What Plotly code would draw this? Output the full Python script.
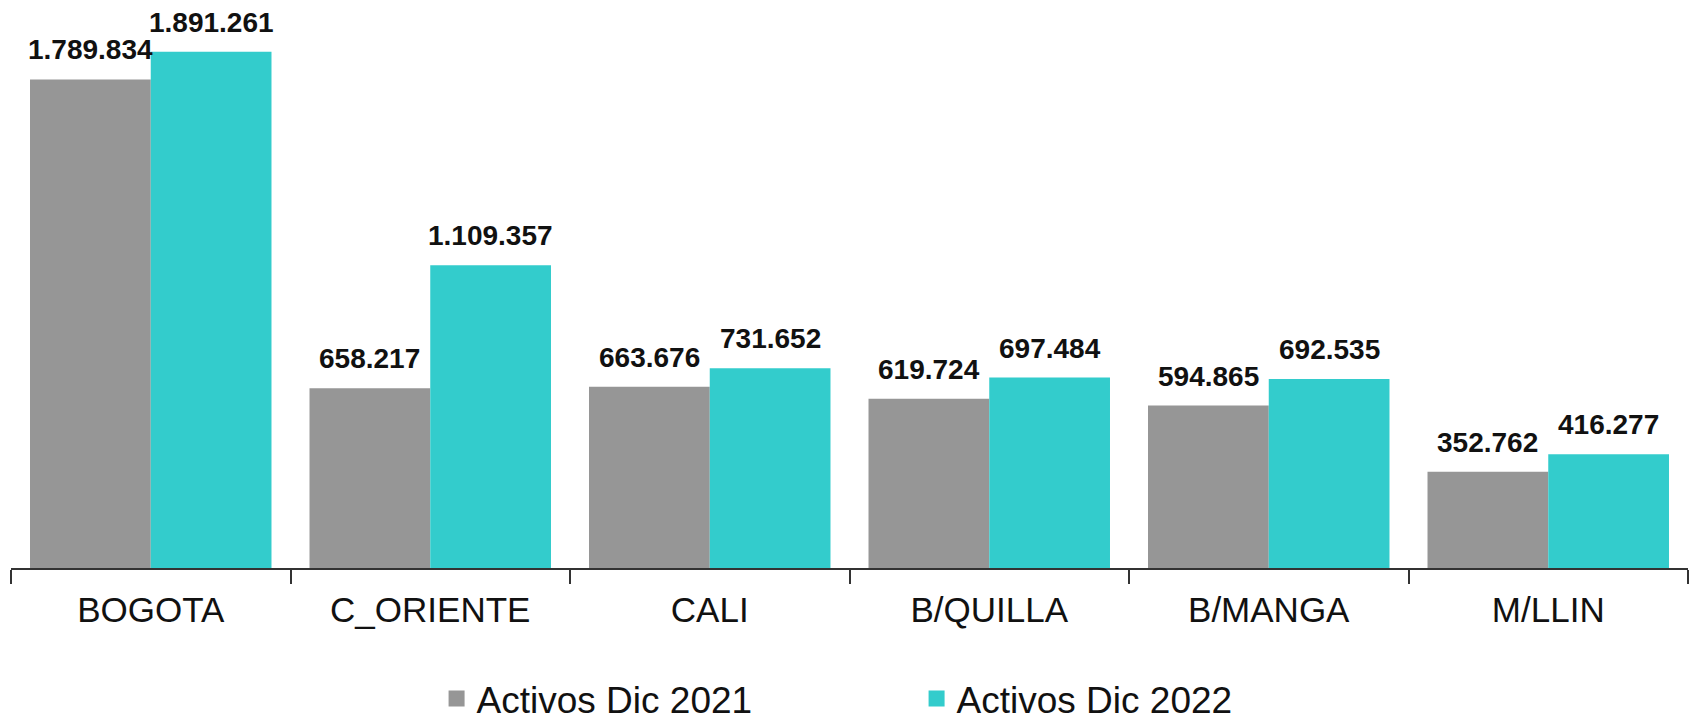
import plotly.graph_objects as go

categories = ["BOGOTA", "C_ORIENTE", "CALI", "B/QUILLA", "B/MANGA", "M/LLIN"]
activos_2021 = [1789834, 658217, 663676, 619724, 594865, 352762]
activos_2022 = [1891261, 1109357, 731652, 697484, 692535, 416277]
series_names = ["Activos Dic 2021", "Activos Dic 2022"]
colors = ["#969696", "#33CCCC"]

def fmt(v):
    return f"{v:,}".replace(",", ".")

fig = go.Figure()
for name, vals, col in zip(series_names, [activos_2021, activos_2022], colors):
    fig.add_trace(go.Bar(name=name, x=categories, y=vals, marker_color=col,
                         marker_line_width=0, showlegend=False))
# legend entries with larger square swatches
for name, col in zip(series_names, colors):
    fig.add_trace(go.Scatter(name=name, x=[None], y=[None], mode="markers",
                             marker=dict(symbol="square", size=18, color=col),
                             showlegend=True))

bargap = 0.136
half = (1 - bargap) / 4
for si, vals in enumerate([activos_2021, activos_2022]):
    off = -half if si == 0 else half
    for i, v in enumerate(vals):
        fig.add_annotation(x=i + off, y=v, text="<b>" + fmt(v) + "</b>",
                           showarrow=False, yanchor="bottom", yshift=12,
                           font=dict(family="Liberation Sans, Arial", size=28, color="#111111"))

fig.update_layout(
    width=1691, height=721,
    margin=dict(l=11, r=3, t=22, b=153, autoexpand=False),
    paper_bgcolor="white", plot_bgcolor="white",
    barmode="group", bargap=bargap, bargroupgap=0,
    font=dict(family="Liberation Sans, Arial", color="#111111"),
    showlegend=True,
    legend=dict(orientation="h", x=0.54, xanchor="center", y=-0.24, yanchor="middle",
                font=dict(size=37, color="#111111"), entrywidth=435, entrywidthmode="pixels",
                itemsizing="trace"),
    xaxis=dict(showline=True, linecolor="#333333", linewidth=2, ticks="outside",
               tickson="boundaries", ticklen=14, tickcolor="#333333", tickwidth=2,
               ticklabelstandoff=10,
               tickfont=dict(size=35, color="#111111"), showgrid=False),
    yaxis=dict(range=[0, 2000000], visible=False, showgrid=False),
)
fig.write_html("out.html", post_script="document.body.style.margin='0';",
               config={"displayModeBar": False})
